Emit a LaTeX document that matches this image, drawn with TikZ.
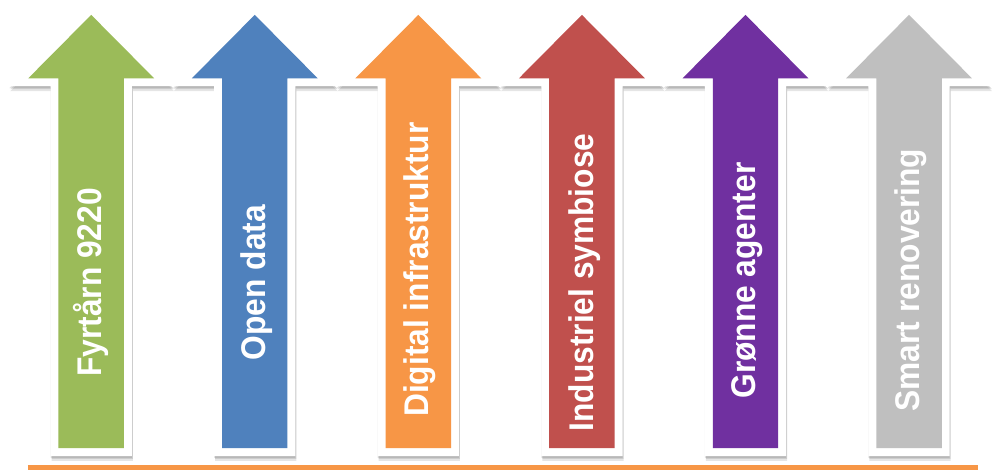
\documentclass[tikz,border=0pt]{standalone}
\usepackage{fontspec}
\setmainfont{Liberation Sans}
\usepackage{tikz}
\definecolor{fyrgreen}{HTML}{9BBB59}
\definecolor{datablue}{HTML}{4F81BD}
\definecolor{infraorange}{HTML}{F79646}
\definecolor{symbred}{HTML}{C0504D}
\definecolor{agentpurple}{HTML}{7030A0}
\definecolor{renogray}{HTML}{BFBFBF}
\begin{document}
\begin{tikzpicture}[x=1pt,y=-1pt]
\tikzset{font=\fontsize{32}{32}\selectfont\bfseries}
\tikzset{outerarrow/.style={insert path={({#1-41},460) -- ({#1-41},87) -- ({#1-82.7},87) -- (#1,3.7) -- ({#1+82.7},87) -- ({#1+41},87) -- ({#1+41},460) -- cycle}}}
\tikzset{innerarrow/.style={insert path={({#1-33},452) -- ({#1-33},79) -- ({#1-63.5},79) -- (#1,15) -- ({#1+63.5},79) -- ({#1+33},79) -- ({#1+33},452) -- cycle}}}
\tikzset{shade/.style={fill=black, opacity=0.1}}
\tikzset{arrowlabel/.style={anchor=base, rotate=90, text=white, inner sep=0pt}}
\fill[white] (0,0) rectangle (992,475);
\foreach \i/\col/\mid/\dx/\txt in {0/fyrgreen/285/10.5/Fyrtårn 9220, 1/datablue/285/10.5/Open data, 2/infraorange/272/10.5/Digital infrastruktur, 3/symbred/285/12/Industriel symbiose, 4/agentpurple/283/10.5/Grønne agenter, 5/renogray/282.5/10.5/Smart renovering} {
  \pgfmathsetmacro{\c}{92+165*\i}
  \fill[shade, shift={(0,2)}, outerarrow=\c];
  \fill[shade, shift={(1,3)}, outerarrow=\c];
  \fill[shade, shift={(1,5)}, outerarrow=\c];
  \fill[white, outerarrow=\c];
  \fill[\col, innerarrow=\c];
  \node[arrowlabel] (label\i) at ({\c+\dx},\mid) {\scalebox{1}[1.08]{\txt}};
}
\coordinate (baseL) at (28,471.5);
\coordinate (baseR) at (987,471.5);
\draw[infraorange, line width=5] (baseL) -- (baseR);
\end{tikzpicture}
\end{document}
